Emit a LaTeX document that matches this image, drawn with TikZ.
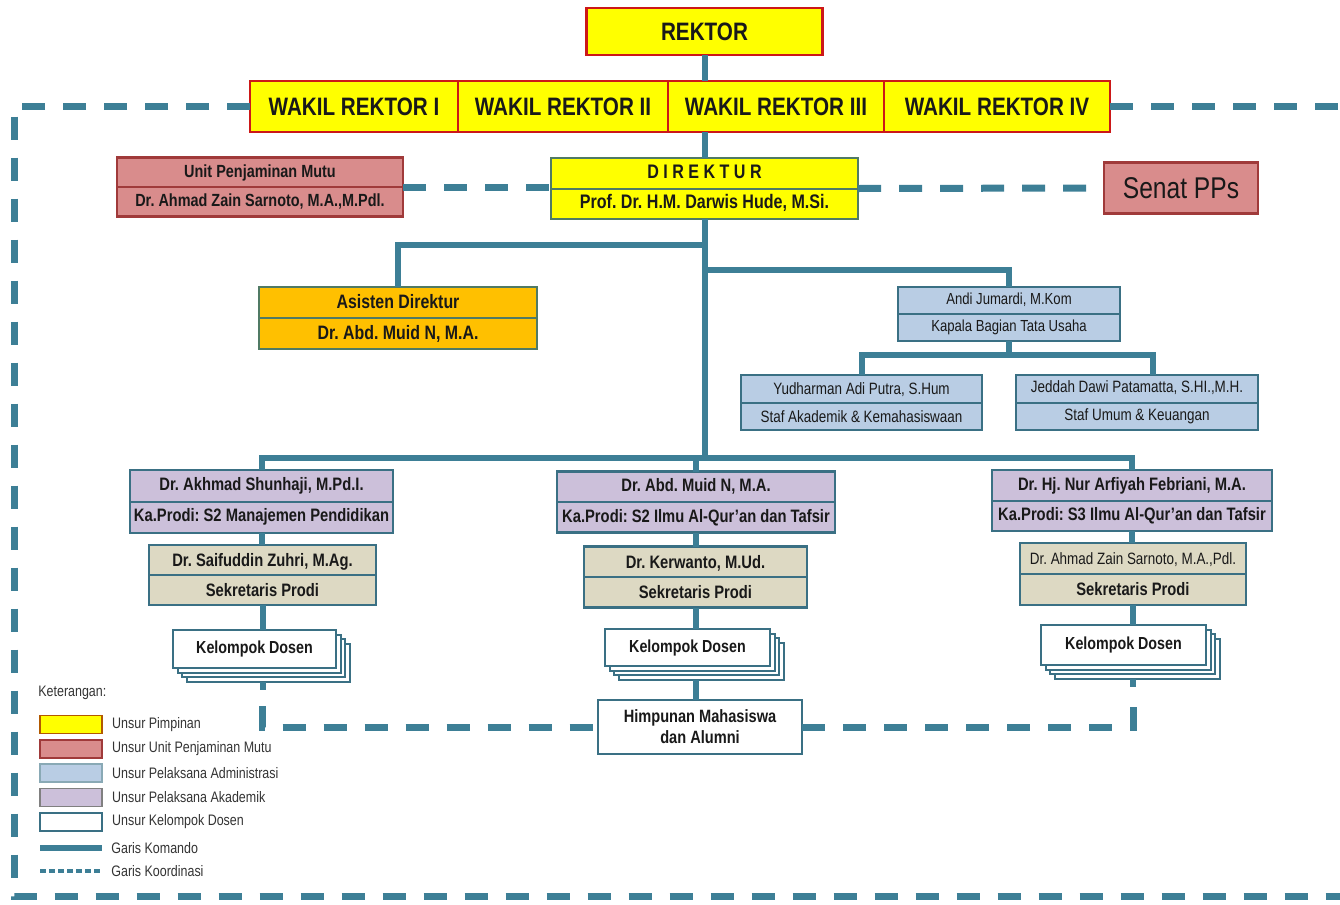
\documentclass[tikz,border=0pt]{standalone}
\usepackage{fontspec}
\setmainfont[FakeStretch=0.82]{Liberation Sans}
\usepackage{tikz}
\usetikzlibrary{shapes,arrows}
\usetikzlibrary{positioning}
\usetikzlibrary{shadows}
\definecolor{garis}{RGB}{61,127,150}
\definecolor{tepi}{RGB}{58,112,132}
\definecolor{kuning}{RGB}{255,255,0}
\definecolor{merah}{RGB}{204,24,24}
\definecolor{merahmuda}{RGB}{217,140,140}
\definecolor{merahtua}{RGB}{160,58,58}
\definecolor{jingga}{RGB}{255,192,0}
\definecolor{hijaukelabu}{RGB}{80,122,100}
\definecolor{birumuda}{RGB}{185,205,228}
\definecolor{ungu}{RGB}{204,192,218}
\definecolor{krem}{RGB}{221,217,195}
\frenchspacing
\newcommand\fsize[2]{\fontsize{#1}{#2}\selectfont}
\newcommand\twonode[5][]{%
  \node[#1] (#2) {#4\\#5};
  \draw[draw=#3,line width=1pt] (#2.west) -- (#2.east);
}

\begin{document}
\begin{tikzpicture}[
x=0.5pt, y=-0.5pt,
box/.style={draw, inner sep=0pt, outer sep=0pt, align=center,
  text=black!90, line width=1.4pt},
pimpinan/.style={box, fill=kuning, draw=merah},
mutu/.style={box, fill=merahmuda, draw=merahtua},
admin/.style={box, fill=birumuda, draw=tepi},
akademik/.style={box, fill=ungu, draw=tepi},
sekprodi/.style={box, fill=krem, draw=tepi},
kdstack/.style={box, fill=white, draw=tepi,
  general shadow={shadow xshift=6.9pt, shadow yshift=-6.9pt, fill=white, draw=tepi, line width=1pt},
  general shadow={shadow xshift=4.6pt, shadow yshift=-4.6pt, fill=white, draw=tepi, line width=1pt},
  general shadow={shadow xshift=2.3pt, shadow yshift=-2.3pt, fill=white, draw=tepi, line width=1pt}},
komando/.style={draw=garis, line width=3pt},
koordinasi/.style={draw=garis, line width=3.5pt, dash pattern=on 11.5pt off 9pt},
swatch/.style={draw, line width=0.8pt, inner sep=0pt, minimum width=31pt, minimum height=9pt},
legend/.style={inner sep=0pt, anchor=west, font=\fsize{7.6}{9}, text=black!80}
]
\useasboundingbox (0,0) rectangle (1340,905);

% pimpinan
\node[pimpinan, minimum width=118pt, minimum height=23.5pt, font=\fsize{12.6}{15}\bfseries] (rektor) at (704.5,31.5) {REKTOR};
\node[pimpinan, minimum width=104pt, minimum height=25.5pt, font=\fsize{12.6}{15}\bfseries] (wr1) at (354,106.5) {WAKIL REKTOR I};
\node[pimpinan, minimum width=105pt, minimum height=25.5pt, font=\fsize{12.6}{15}\bfseries, right=0pt of wr1] (wr2) {WAKIL REKTOR II};
\node[pimpinan, minimum width=108pt, minimum height=25.5pt, font=\fsize{12.6}{15}\bfseries, right=0pt of wr2] (wr3) {WAKIL REKTOR III};
\node[pimpinan, minimum width=113pt, minimum height=25.5pt, font=\fsize{12.6}{15}\bfseries, right=0pt of wr3] (wr4) {WAKIL REKTOR IV};
\twonode[pimpinan, draw=hijaukelabu, at={(704.5,188.5)}, minimum width=153.5pt, minimum height=30.5pt, font=\fsize{9.8}{15.25}\bfseries]{dir}{hijaukelabu}{D I R E K T U R}{Prof. Dr. H.M. Darwis Hude, M.Si.}
\twonode[mutu, at={(260,187)}, minimum width=143pt, minimum height=29.5pt, font=\fsize{8.8}{14.75}\bfseries]{upm}{merahtua}{Unit Penjaminan Mutu}{Dr. Ahmad Zain Sarnoto, M.A.,M.Pdl.}
\node[mutu, minimum width=77pt, minimum height=25.5pt, font=\fsize{15}{18}] (senat) at (1181,188) {Senat PPs};

% direktur ke bawah
\twonode[box, fill=jingga, draw=hijaukelabu, at={(398,318)}, minimum width=139pt, minimum height=31pt, font=\fsize{9.7}{15.5}\bfseries]{asdir}{hijaukelabu}{Asisten Direktur}{Dr. Abd. Muid N, M.A.}
\twonode[admin, at={(1009,314)}, minimum width=111pt, minimum height=27pt, font=\fsize{8}{13.5}]{tu}{tepi}{Andi Jumardi, M.Kom}{Kapala Bagian Tata Usaha}
\twonode[admin, at={(861.5,402.5)}, minimum width=120.5pt, minimum height=27.5pt, font=\fsize{8.2}{13.75}]{staf1}{tepi}{Yudharman Adi Putra, S.Hum}{Staf Akademik \& Kemahasiswaan}
\twonode[admin, at={(1137,402.5)}, minimum width=121pt, minimum height=27.5pt, font=\fsize{8.2}{13.75}]{staf2}{tepi}{Jeddah Dawi Patamatta, S.HI.,M.H.}{Staf Umum \& Keuangan}

% prodi
\twonode[akademik, at={(261.5,501.5)}, minimum width=131.5pt, minimum height=31.5pt, font=\fsize{9}{15.75}\bfseries]{p1}{tepi}{Dr. Akhmad Shunhaji, M.Pd.I.}{Ka.Prodi: S2 Manajemen Pendidikan}
\twonode[akademik, at={(696,502)}, minimum width=139pt, minimum height=30.5pt, font=\fsize{9}{15.25}\bfseries]{p2}{tepi}{Dr. Abd. Muid N, M.A.}{Ka.Prodi: S2 Ilmu Al-Qur'an dan Tafsir}
\twonode[akademik, at={(1132,500.5)}, minimum width=140pt, minimum height=30.5pt, font=\fsize{9}{15.25}\bfseries]{p3}{tepi}{Dr. Hj. Nur Arfiyah Febriani, M.A.}{Ka.Prodi: S3 Ilmu Al-Qur'an dan Tafsir}
\twonode[sekprodi, at={(262.5,575)}, minimum width=113.5pt, minimum height=30pt, font=\fsize{9}{15}\bfseries]{s1}{tepi}{Dr. Saifuddin Zuhri, M.Ag.}{Sekretaris Prodi}
\twonode[sekprodi, at={(695.5,577)}, minimum width=111.5pt, minimum height=30.5pt, font=\fsize{9}{15.25}\bfseries]{s2}{tepi}{Dr. Kerwanto, M.Ud.}{Sekretaris Prodi}
\twonode[sekprodi, at={(1133,574)}, minimum width=113pt, minimum height=31pt, font=\fsize{9}{15.5}\bfseries]{s3}{tepi}{{\mdseries\fsize{8.2}{15.5}Dr. Ahmad Zain Sarnoto, M.A.,Pdl.}}{Sekretaris Prodi}

% kelompok dosen
\node[kdstack, minimum width=81.5pt, minimum height=19pt, font=\fsize{8.7}{10}\bfseries] (k1) at (254.5,649) {Kelompok Dosen};
\node[kdstack, minimum width=82.5pt, minimum height=18.5pt, font=\fsize{8.7}{10}\bfseries] (k2) at (687.5,647.5) {Kelompok Dosen};
\node[kdstack, minimum width=82.5pt, minimum height=20pt, font=\fsize{8.7}{10}\bfseries] (k3) at (1123.5,645) {Kelompok Dosen};
\node[box, fill=white, draw=tepi, minimum width=102pt, minimum height=27pt, font=\fsize{8.9}{10.5}\bfseries] (hima) at (700,727) {Himpunan Mahasiswa\\dan Alumni};

% garis komando
\coordinate (bus) at (704.5,458);
\draw[komando] (rektor.south) -- (rektor.south |- wr3.north);
\draw[komando] (rektor.south |- wr3.south) -- (dir.north);
\draw[komando] (dir.south) -- ++(0,26) -| (asdir.north);
\draw[komando] (dir.south) -- ++(0,51) -| (tu.north);
\draw[komando] (dir.south) -- (bus);
\draw[komando] (tu.south) -- ++(0,14) coordinate (tub);
\draw[komando] (staf1.north) |- (tub) -| ([xshift=8pt]staf2.north);
\draw[komando] (p1.north) |- (bus) -| (p3.north);
\draw[komando] (bus -| p2.north) -- (p2.north);
\draw[komando] (p1.south) -- (p1.south |- s1.north);
\draw[komando] (p2.south) -- (p2.south |- s2.north);
\draw[komando] (p3.south) -- (p3.south |- s3.north);
\draw[komando] (s1.south) -- (s1.south |- k1.north);
\draw[komando] (s2.south) -- (s2.south |- k2.north);
\draw[komando] (s3.south) -- (s3.south |- k3.north);
\draw[komando] ([yshift=-7pt]s2.south |- k2.south) -- (s2.south |- hima.north);
\draw[komando] ([yshift=-7pt]s1.south |- k1.south) -- ++(0,8) coordinate (k1b);
\draw[komando] ([yshift=-7pt]s3.south |- k3.south) -- ++(0,8) coordinate (k3b);

% garis koordinasi
\coordinate (sudut) at (14,106.5);
\coordinate (bawah) at (1340,896);
\draw[koordinasi] (wr1.west) -- (sudut) |- (bawah);
\draw[koordinasi] (wr4.east) -- (wr4.east -| bawah);
\draw[koordinasi] (upm.east) -- (upm.east -| dir.west);
\draw[koordinasi] (dir.east) -- (senat.west);
\draw[koordinasi] ([yshift=-8pt]k1b) |- (hima.west);
\draw[koordinasi] (hima.east) -| ([yshift=-8pt]k3b);

% keterangan
\node[legend] (ket) at (38,693) {Keterangan:};
\node[swatch, fill=kuning, draw=orange!70!black] (lg1) at (71,724.5) {};
\node[swatch, fill=merahmuda, draw=merahtua] (lg2) at (71,749) {};
\node[swatch, fill=birumuda, draw=tepi!60] (lg3) at (71,773) {};
\node[swatch, fill=ungu, draw=gray] (lg4) at (71,797.5) {};
\node[swatch, fill=white, draw=tepi] (lg5) at (71,822) {};
\coordinate (lg6) at (71,848);
\coordinate (lg7) at (71,871);
\draw[komando] ([xshift=-15.5pt]lg6) -- ([xshift=15.5pt]lg6);
\draw[draw=garis, line width=2pt, dash pattern=on 3pt off 1.5pt] ([xshift=-15.5pt]lg7) -- ([xshift=15.5pt]lg7);
\node[legend, right=4.5pt of lg1] {Unsur Pimpinan};
\node[legend, right=4.5pt of lg2] {Unsur Unit Penjaminan Mutu};
\node[legend, right=4.5pt of lg3] {Unsur Pelaksana Administrasi};
\node[legend, right=4.5pt of lg4] {Unsur Pelaksana Akademik};
\node[legend, right=4.5pt of lg5] {Unsur Kelompok Dosen};
\node[legend, right=20pt of lg6] {Garis Komando};
\node[legend, right=20pt of lg7] {Garis Koordinasi};
\end{tikzpicture}
\end{document}
